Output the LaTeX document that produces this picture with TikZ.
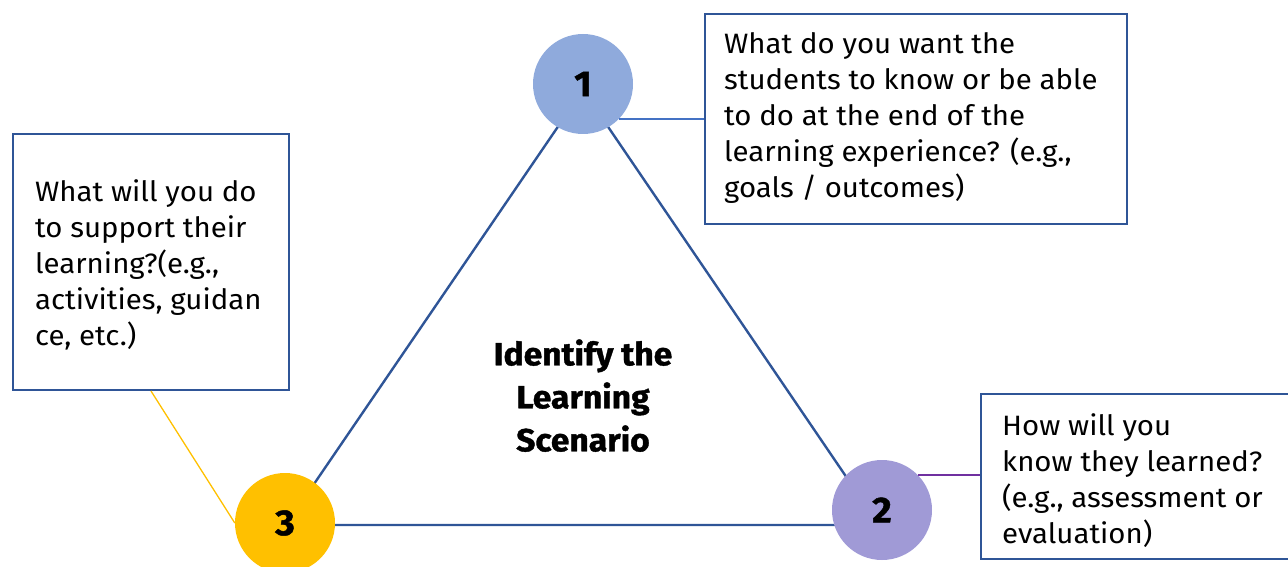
\documentclass[tikz,border=0pt]{standalone}
\usepackage{fontspec}
\setmainfont{Fira Sans}[FakeStretch=1.05]
\newfontfamily\heavyfont{Fira Sans}[FakeStretch=1.05, FakeBold=1.2]
\definecolor{frameblue}{HTML}{2F5597}
\definecolor{linkblue}{HTML}{4472C4}
\definecolor{linkpurple}{HTML}{7030A0}
\definecolor{goldfill}{HTML}{FFC000}
\definecolor{bluefill}{HTML}{8FAADC}
\definecolor{lavfill}{HTML}{A09AD6}
\begin{document}
\begin{tikzpicture}[x=1pt,y=-1pt,
  numdot/.style={circle, minimum size=100pt, inner sep=0pt,
    font=\fontsize{36}{36}\heavyfont\bfseries},
  qframe/.style={draw=frameblue, line width=2pt, rectangle, inner sep=0pt},
  qtext/.style={anchor=north west, inner sep=0pt, align=left,
    font=\fontsize{28}{36}\selectfont},
  link/.style={line width=1.3pt},
  edge/.style={draw=frameblue, line width=2.4pt, line join=round}
]
\useasboundingbox (0,0) rectangle (1288,567);

% triangle
\coordinate (ta) at (583,90);
\coordinate (tl) at (286,525);
\coordinate (tr) at (879,525);
\draw[edge] (ta) -- (tl) -- (tr) -- cycle;

% numbered circles
\node[numdot, fill=bluefill] (c1) at (583,84) {1};
\node[numdot, fill=lavfill] (c2) at (882,510) {2};
\node[numdot, fill=goldfill] (c3) at (285,523) {3};

% question frames
\node[qframe, minimum width=422pt, minimum height=210pt, anchor=north west] (b1) at (704,13) {};
\node[qframe, minimum width=330pt, minimum height=165pt, anchor=north west] (b2) at (980,393) {};
\node[qframe, minimum width=276pt, minimum height=256pt, anchor=north west] (b3) at (12,133) {};

% question texts
\node[qtext] (t1) at (724,27.8) {\strut What do you want the\\students to know or be able\\to do at the end of the\\learning experience? (e.g.,\\goals / outcomes)};
\node[qtext] (t2) at (1002,409.8) {\strut How will you\\know they learned?\\(e.g., assessment or\\evaluation)};
\node[qtext] (t3) at (35,175.8) {\strut What will you do\\to support their\\learning?(e.g.,\\activities, guidan\\ce, etc.)};

% centre title
\node[align=center, inner sep=0pt, anchor=north, font=\fontsize{32}{43}\heavyfont\bfseries] (title) at (583,335) {\strut Identify the\\Learning\\Scenario};

% connectors
\draw[link, linkblue] (c1.-44.4) -- (c1.-44.4 -| b1.west);
\draw[link, linkpurple] (c2.44.4) -- (c2.44.4 -| b2.west);
\draw[link, goldfill] (b3.south) -- (c3.west);
\end{tikzpicture}
\end{document}
